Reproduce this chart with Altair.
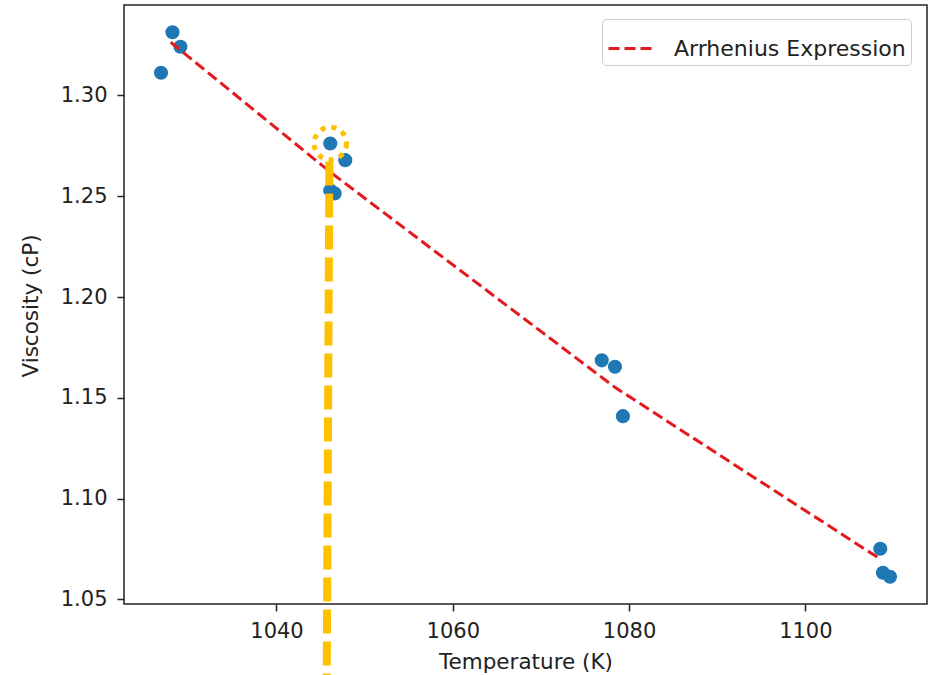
import altair as alt
import pandas as pd

# ---- data ----
temperature = [1026.9, 1028.2, 1029.1, 1046.1, 1047.8, 1046.1, 1046.6,
               1076.9, 1078.4, 1079.3, 1108.5, 1108.8, 1109.6]
viscosity = [1.3113, 1.3314, 1.3242, 1.2762, 1.2679, 1.2529, 1.2514,
             1.1686, 1.1654, 1.1409, 1.0751, 1.0632, 1.0612]

fit_temperature = [1028.0, 1046.1, 1060.0, 1078.4, 1094.0, 1108.6]
fit_viscosity = [1.3264, 1.2620, 1.2160, 1.1552, 1.1110, 1.0697]
fit_label = "Arrhenius Expression"

# highlight annotation
hl_temperature = [1046.1]
hl_viscosity = [1.2762]
marker_top_temperature = [1046.0]
marker_bottom_temperature = [1045.7]
marker_top_viscosity = [1.2672]

x_ticks = [1040, 1060, 1080, 1100]
y_ticks = [1.05, 1.10, 1.15, 1.20, 1.25, 1.30]
x_domain = [1022.7, 1113.8]
y_domain = [1.0477, 1.3449]

FONT = "DejaVu Sans"
TXT = "#222222"
RED = "#e3191c"
BLUE = "#1f77b4"
GOLD = "#FFC000"

W, H = 803, 599

pts = pd.DataFrame({"T": temperature, "V": viscosity})
fit = pd.DataFrame({"T": fit_temperature, "V": fit_viscosity,
                    "label": [fit_label] * len(fit_temperature)})
hl = pd.DataFrame({"T": hl_temperature, "V": hl_viscosity})
marker = pd.DataFrame({"T": marker_top_temperature, "T2": marker_bottom_temperature,
                       "V": marker_top_viscosity})

xs = alt.Scale(domain=x_domain, nice=False, zero=False)
ys = alt.Scale(domain=y_domain, nice=False, zero=False)

x_axis = alt.Axis(values=x_ticks, format="d", title="Temperature (K)",
                  labelFontSize=21, labelFont=FONT, labelColor=TXT,
                  labelBaseline="alphabetic", labelPadding=26,
                  tickSize=7, tickWidth=1.5, tickColor=TXT,
                  titleFontSize=21.5, titleFont=FONT, titleColor=TXT,
                  titleFontWeight="normal", titleX=W / 2, titleY=64,
                  titleBaseline="alphabetic", titleAlign="center",
                  domain=False, grid=False, labelFlush=False)
y_axis = alt.Axis(values=y_ticks, format=".2f", title="Viscosity (cP)",
                  labelFontSize=21, labelFont=FONT, labelColor=TXT,
                  labelPadding=10, tickSize=7, tickWidth=1.5, tickColor=TXT,
                  titleFontSize=21.5, titleFont=FONT, titleColor=TXT,
                  titleFontWeight="normal", titleX=-93, titleY=H / 2 + 1,
                  titleAngle=270, titleBaseline="middle", titleAlign="center",
                  domain=False, grid=False, labelFlush=False)

points = alt.Chart(pts).mark_circle(size=200, color=BLUE, opacity=1).encode(
    x=alt.X("T:Q", scale=xs, axis=x_axis),
    y=alt.Y("V:Q", scale=ys, axis=y_axis),
)

line = alt.Chart(fit).mark_line(strokeDash=[11, 5], strokeWidth=3).encode(
    x=alt.X("T:Q", scale=xs),
    y=alt.Y("V:Q", scale=ys),
    color=alt.Color("label:N",
                    scale=alt.Scale(domain=[fit_label], range=[RED]),
                    legend=alt.Legend(orient="none", legendX=478, legendY=14,
                                      title=None, symbolType="stroke",
                                      symbolSize=2116, symbolStrokeWidth=3,
                                      symbolDash=[11, 5],
                                      labelFontSize=22, labelFont=FONT,
                                      labelColor=TXT, labelOffset=18,
                                      labelLimit=500,
                                      padding=5, fillColor="white",
                                      strokeColor="#cccccc", cornerRadius=4)),
)

circle = alt.Chart(hl).mark_point(shape="circle", filled=False, size=1050,
                                  strokeWidth=5, strokeDash=[5, 6],
                                  color=GOLD, opacity=1).encode(
    x=alt.X("T:Q", scale=xs),
    y=alt.Y("V:Q", scale=ys),
)

rule = alt.Chart(marker).mark_rule(strokeWidth=8, strokeDash=[24, 8],
                                   color=GOLD, clip=False,
                                   strokeCap="butt").encode(
    x=alt.X("T:Q", scale=xs),
    x2="T2:Q",
    y=alt.Y("V:Q", scale=ys),
    y2=alt.value(H + 71),
)

chart = alt.layer(points, line, circle, rule).properties(
    width=W, height=H,
    autosize=alt.AutoSizeParams(type="none"),
    padding={"left": 124, "top": 5, "right": 8, "bottom": 71},
    background="white",
).configure_view(stroke=TXT, strokeWidth=1.5)

chart.save("out.html", embed_options={"renderer": "svg", "actions": False})
